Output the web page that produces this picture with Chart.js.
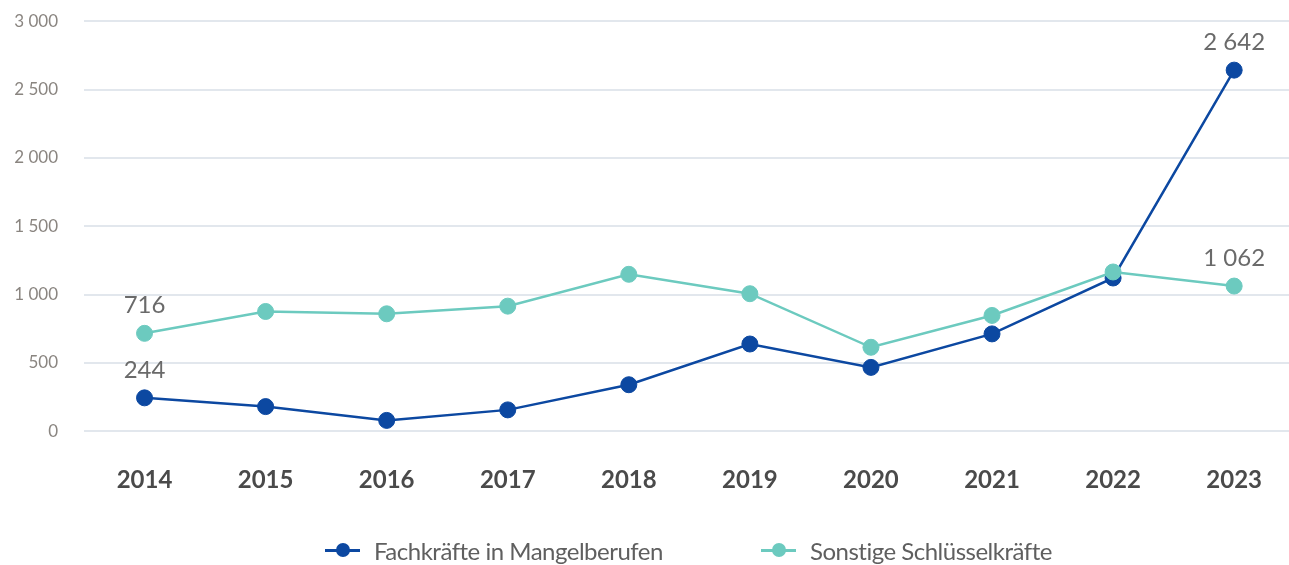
<!DOCTYPE html>
<html lang="de">
<head>
<meta charset="UTF-8">
<title>Fachkräfte in Mangelberufen und sonstige Schlüsselkräfte</title>
<script src="https://cdn.jsdelivr.net/npm/chart.js"></script>
<style>
  html, body { margin: 0; padding: 0; background: #fff; overflow: hidden; }
  #wrap { position: relative; width: 1297px; height: 565px; overflow: hidden; }
  #lineChart { position: absolute; left: 0; top: -15px; }
  #legend { position: absolute; left: 0; top: 536px; width: 1297px; height: 28px;
            font-family: Lato, "Open Sans", sans-serif; font-size: 24px; letter-spacing: -0.5px; color: #5f5f5f; }
  .item { position: absolute; top: 0; display: flex; align-items: center; height: 28px; }
  .icon { position: relative; width: 35px; height: 14px; margin-right: 14px; }
  .icon .ln { position: absolute; left: 0; right: 0; top: 5.5px; height: 3px; }
  .icon .dot { position: absolute; left: 11px; top: 0; width: 14px; height: 14px; border-radius: 50%; }
</style>
</head>
<body>
<div id="wrap">
  <canvas id="lineChart" width="1297" height="590"></canvas>
  <div id="legend"></div>
</div>

<script>
// data
const years = ['2014', '2015', '2016', '2017', '2018', '2019', '2020', '2021', '2022', '2023'];
const fachkraefte = [244, 180, 79, 156, 340, 638, 467, 712, 1121, 2642];
const sonstige = [716, 876, 859, 915, 1148, 1006, 614, 847, 1165, 1062];
const seriesNames = ['Fachkräfte in Mangelberufen', 'Sonstige Schlüsselkräfte'];
const seriesColors = ['#0c48a1', '#6ccabf'];
const labelledPoints = [0, 9];   // indices that carry a value label
const legendLeft = [325, 761];

// 2642 -> "2 642"
function fmt(v) {
  return String(v).replace(/\B(?=(\d{3})+(?!\d))/g, ' ');
}

// value labels above first and last point
const valueLabels = {
  id: 'valueLabels',
  afterDatasetsDraw(chart) {
    const ctx = chart.ctx;
    ctx.save();
    ctx.font = '24px Lato';
    ctx.fillStyle = '#6a6a6a';
    ctx.textAlign = 'center';
    ctx.textBaseline = 'middle';
    chart.data.datasets.forEach((ds, i) => {
      const meta = chart.getDatasetMeta(i);
      labelledPoints.forEach(idx => {
        const pt = meta.data[idx];
        ctx.fillText(fmt(ds.data[idx]), pt.x, pt.y - 28);
      });
    });
    ctx.restore();
  }
};

const ctx = document.getElementById('lineChart').getContext('2d');

new Chart(ctx, {
  type: 'line',
  data: {
    labels: years,
    datasets: [
      {
        label: seriesNames[0],
        data: fachkraefte,
        borderColor: seriesColors[0],
        backgroundColor: seriesColors[0],
        borderWidth: 2.5,
        pointRadius: 8,
        pointBorderWidth: 1,
        tension: 0,
        order: 2
      },
      {
        label: seriesNames[1],
        data: sonstige,
        borderColor: seriesColors[1],
        backgroundColor: seriesColors[1],
        borderWidth: 2.5,
        pointRadius: 8,
        pointBorderWidth: 1,
        tension: 0,
        order: 1
      }
    ]
  },
  options: {
    responsive: false,
    animation: false,
    layout: { autoPadding: false, padding: { top: 10, bottom: 45, left: 0, right: 0 } },
    plugins: {
      legend: { display: false },
      tooltip: { enabled: false }
    },
    scales: {
      x: {
        offset: true,
        grid: { display: false, drawTicks: false },
        border: { display: false },
        ticks: {
          padding: 35,
          color: '#4a4a4a',
          font: { family: 'Lato', size: 24, weight: 'bold' }
        }
      },
      y: {
        min: 0,
        max: 3000,
        afterFit(scale) { scale.width = 84; },
        grid: { color: '#e2e7ed', lineWidth: 2, drawTicks: false },
        border: { display: false },
        ticks: {
          stepSize: 500,
          padding: 26,
          color: '#8a8580',
          font: { family: 'Lato', size: 17 },
          callback: v => fmt(v)
        }
      }
    }
  },
  plugins: [valueLabels]
});

// legend below the chart
const legend = document.getElementById('legend');
seriesNames.forEach((name, i) => {
  const item = document.createElement('div');
  item.className = 'item';
  item.style.left = legendLeft[i] + 'px';
  item.innerHTML = '<span class="icon"><span class="ln" style="background:' + seriesColors[i] +
    '"></span><span class="dot" style="background:' + seriesColors[i] + '"></span></span><span>' + name + '</span>';
  legend.appendChild(item);
});
</script>
</body>
</html>
